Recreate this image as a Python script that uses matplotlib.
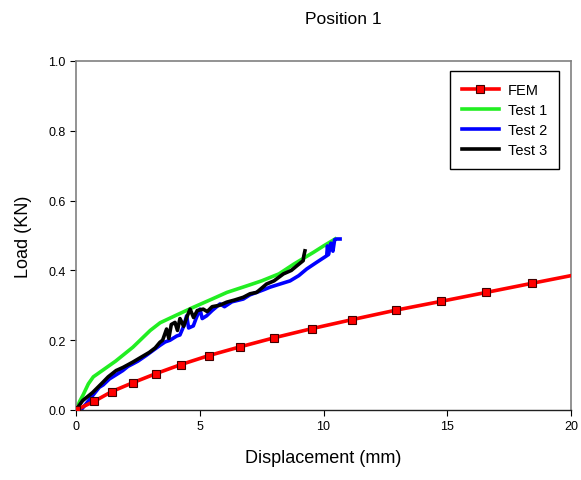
import numpy as np
import matplotlib
matplotlib.use('Agg')
import matplotlib.pyplot as plt

plt.rcParams['font.family'] = ['Liberation Sans', 'DejaVu Sans']

# FEM curve (last point is line end, no marker)
fem_x = [0, 0.74, 1.45, 2.29, 3.22, 4.23, 5.37, 6.63, 8.01, 9.52, 11.16, 12.92, 14.73, 16.58, 18.42, 20.0]
fem_y = [0, 0.025, 0.053, 0.078, 0.104, 0.130, 0.156, 0.181, 0.207, 0.233, 0.259, 0.286, 0.311, 0.337, 0.363, 0.385]

t1_x = [0, 0.15, 0.3, 0.5, 0.7, 1.0, 1.6, 2.3, 3.0, 3.4, 4.0, 4.7, 5.5, 6.1, 7.0, 7.5, 8.2, 8.8, 9.6, 10.0, 10.47]
t1_y = [0, 0.025, 0.045, 0.075, 0.095, 0.11, 0.14, 0.18, 0.228, 0.25, 0.27, 0.293, 0.318, 0.337, 0.358, 0.37, 0.39, 0.418, 0.452, 0.47, 0.49]

t2_x = [0.2, 0.4, 0.67, 0.94, 1.1, 1.35, 1.6, 1.89, 2.1, 2.29, 2.5, 2.83, 3.1, 3.39, 3.6, 3.8, 4.07, 4.2, 4.35, 4.47, 4.55,
        4.74, 4.85, 5.01, 5.1, 5.28, 5.5, 5.82, 6.0, 6.3, 6.76, 7.03, 7.3, 7.6, 7.84, 8.2, 8.65, 9.0, 9.32, 9.72, 10.13,
        10.16, 10.2, 10.25, 10.3, 10.38, 10.45, 10.53, 10.67]
t2_y = [0, 0.017, 0.041, 0.065, 0.072, 0.089, 0.1, 0.113, 0.125, 0.132, 0.14, 0.156, 0.17, 0.185, 0.195, 0.2, 0.212, 0.215, 0.24,
        0.27, 0.235, 0.241, 0.262, 0.289, 0.262, 0.27, 0.285, 0.304, 0.296, 0.31, 0.318, 0.33, 0.337, 0.345, 0.352, 0.36,
        0.37, 0.385, 0.404, 0.423, 0.442, 0.47, 0.445, 0.462, 0.478, 0.455, 0.488, 0.49, 0.49]

t3_x = [0, 0.27, 0.67, 1.08, 1.3, 1.62, 1.9, 2.29, 2.6, 2.96, 3.2, 3.39, 3.5, 3.66, 3.75, 3.85, 4.0, 4.1, 4.2, 4.35, 4.5,
        4.61, 4.75, 4.9, 5.14, 5.3, 5.5, 5.8, 6.09, 6.4, 6.76, 7.03, 7.3, 7.7, 8.0, 8.38, 8.7, 8.92, 9.18, 9.2, 9.25]
t3_y = [0, 0.027, 0.05, 0.079, 0.095, 0.113, 0.122, 0.137, 0.15, 0.165, 0.178, 0.194, 0.2, 0.232, 0.205, 0.245, 0.251, 0.228,
        0.262, 0.24, 0.27, 0.289, 0.265, 0.285, 0.289, 0.282, 0.296, 0.3, 0.309, 0.315, 0.323, 0.333, 0.337, 0.361, 0.37,
        0.39, 0.4, 0.413, 0.428, 0.44, 0.456]

fig = plt.figure(figsize=(5.81, 4.81), dpi=100)
ax = fig.add_axes([76/581, 1-411/481, 495/581, 349/481])

lw = 2.6
ax.plot(fem_x, fem_y, '-', color='#ff0000', lw=lw, marker='s', ms=5.5, mfc='#ff0000', mec='#400000', mew=0.8,
        markevery=list(range(len(fem_x)-1)), label='FEM', zorder=3)
ax.plot(t1_x, t1_y, '-', color='#22ee22', lw=lw, label='Test 1', zorder=2)
ax.plot(t2_x, t2_y, '-', color='#0000ff', lw=lw, label='Test 2', zorder=2)
ax.plot(t3_x, t3_y, '-', color='#000000', lw=lw, label='Test 3', zorder=2)

ax.set_xlim(0, 20)
ax.set_ylim(0, 1.0)
ax.set_xticks([0, 5, 10, 15, 20])
ax.set_yticks([0, 0.2, 0.4, 0.6, 0.8, 1.0])
ax.set_yticklabels(['0.0', '0.2', '0.4', '0.6', '0.8', '1.0'])
ax.tick_params(axis='both', direction='out', labelsize=9, length=4, width=0.8, colors='#000000')

for s in ['left', 'top', 'right']:
    ax.spines[s].set_color('#808080')
    ax.spines[s].set_linewidth(1.2)
ax.spines['bottom'].set_color('#202020')
ax.spines['bottom'].set_linewidth(1.0)

ax.set_xlabel('Displacement (mm)', fontsize=13, labelpad=12)
ax.set_ylabel('Load (KN)', fontsize=13, labelpad=12)
fig.text(343/581, 1-20/481, 'Position 1', ha='center', va='center', fontsize=12.5)

lgd = ax.legend(loc='upper right', bbox_to_anchor=(0.976, 0.971), borderaxespad=0, fontsize=10.5, fancybox=False,
                edgecolor='#000000', framealpha=1, handlelength=2.6, borderpad=0.8, labelspacing=0.42,
                handletextpad=0.6)
lgd.get_frame().set_linewidth(1.0)

plt.savefig('out.png', dpi=100)
